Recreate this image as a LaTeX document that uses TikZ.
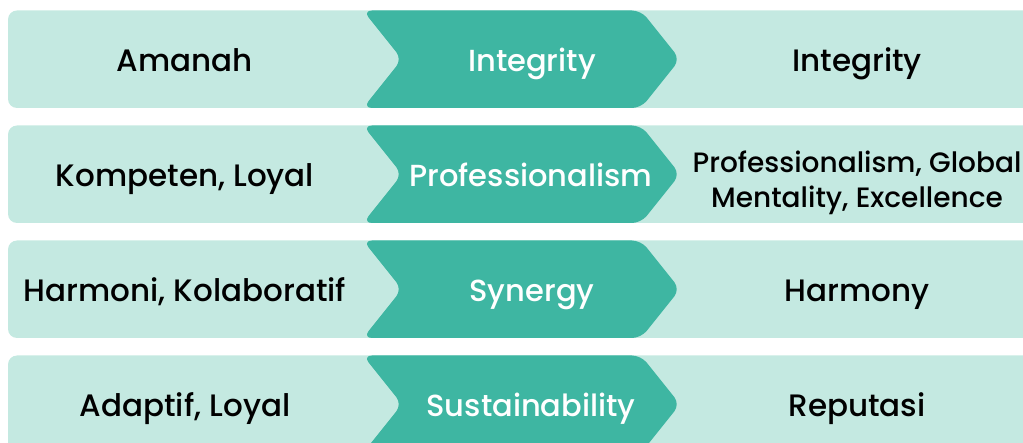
\documentclass[tikz,border=0pt]{standalone}
\usepackage{fontspec}
\setmainfont{Poppins}[UprightFont=* Medium, BoldFont=* SemiBold]
\definecolor{lightteal}{HTML}{C4E9E1}
\definecolor{darkteal}{HTML}{3EB6A2}
\begin{document}
\begin{tikzpicture}[x=1pt,y=-1pt,
  rowbg/.style={fill=lightteal, rounded corners=9pt},
  chev/.style={fill=darkteal, rounded corners=9pt},
  sidetext/.style={font=\fontsize{31}{36}\selectfont, text=black, align=center, anchor=base, inner sep=0pt},
  midtext/.style={font=\fontsize{30.5}{36}\selectfont, text=white, align=center, anchor=base, inner sep=0pt},
  smalltext/.style={font=\fontsize{28}{35}\selectfont, text=black, align=center, anchor=base, inner sep=0pt}]
\useasboundingbox (0,0) rectangle (1023,443);
\clip (0,0) rectangle (1023,443);
\foreach \t [count=\i] in {10.5,125.5,240.5,355.5}{
  \pgfmathsetmacro{\b}{\t+97.5}
  \pgfmathsetmacro{\m}{\t+48.75}
  \fill[rowbg] (8,\t) rectangle (1045,\b);
  \fill[chev] (363,\t) -- (641,\t) -- (680,\m) -- (641,\b) -- (363,\b) -- (402,\m) -- cycle;
}
\node[sidetext] (l1) at (185,72) {Amanah};
\node[midtext] (m1) at (532,72) {Integrity};
\node[sidetext] (r1) at (857,72) {Integrity};
\node[sidetext] (l2) at (185,187) {Kompeten, Loyal};
\node[midtext] (m2) at (531,187) {Professionalism};
\node[smalltext] (r2a) at (857,173) {Professionalism, Global};
\node[smalltext] (r2b) at (857,208) {Mentality, Excellence};
\node[sidetext] (l3) at (185,302) {Harmoni, Kolaboratif};
\node[midtext] (m3) at (532,302) {Synergy};
\node[sidetext] (r3) at (857,302) {Harmony};
\node[sidetext] (l4) at (185,417) {Adaptif, Loyal};
\node[midtext] (m4) at (531,417) {Sustainability};
\node[sidetext] (r4) at (857,417) {Reputasi};
\end{tikzpicture}
\end{document}
